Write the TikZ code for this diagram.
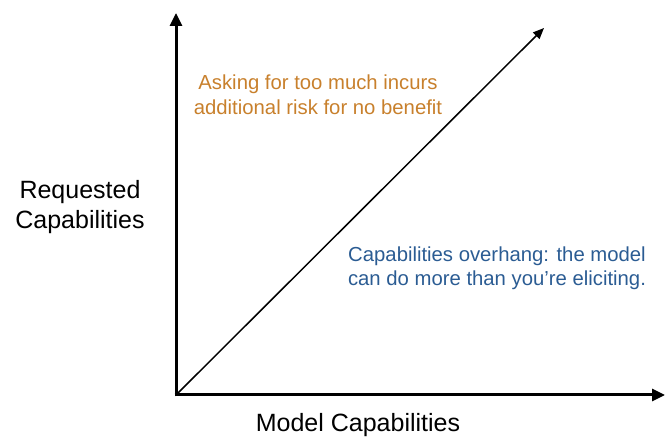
\documentclass[tikz,border=0pt]{standalone}
\usepackage{fontspec}
\setmainfont{Liberation Sans}
\usetikzlibrary{arrows.meta}
\definecolor{korange}{HTML}{C8802C}
\definecolor{kblue}{HTML}{2B5C93}
\begin{document}
\begin{tikzpicture}[x=1pt,y=1pt,
  axis/.style={line width=3pt,-{Triangle[length=13pt,width=12pt]}},
  diag/.style={line width=1.5pt,-{Triangle[length=11pt,width=9pt]}},
  lbl/.style={font=\fontsize{25}{30}\selectfont,align=center,inner sep=0pt},
  note/.style={font=\fontsize{20.3}{24.5}\selectfont,align=center,inner sep=0pt}]
\useasboundingbox (0,0) rectangle (671,438);
\coordinate (o) at (176,43);
\coordinate (ytop) at (176,425);
\coordinate (xend) at (665,43);
\coordinate (dend) at (544,410);
\draw[axis] ([yshift=-1.5pt]o) -- (ytop);
\draw[axis] ([xshift=-1.5pt]o) -- (xend);
\draw[diag] (o) -- (dend);
\node[lbl] (ylab) at (80,231) {Requested\\Capabilities};
\node[lbl] (xlab) at (358,13) {Model Capabilities};
\node[note,text=korange] (over) at (318,343) {Asking for too much incurs\\additional risk for no benefit};
\node[note,text=kblue] (under) at (497,169.5) {Capabilities overhang: the model\\can do more than you’re eliciting.};
\end{tikzpicture}
\end{document}
